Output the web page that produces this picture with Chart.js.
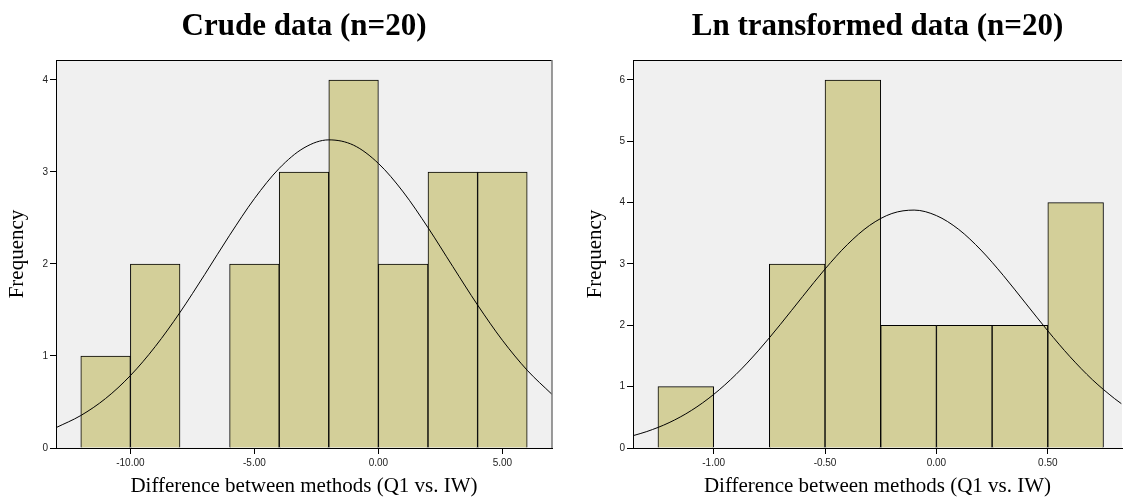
<!DOCTYPE html>
<html>
<head>
<meta charset="utf-8">
<script src="https://cdn.jsdelivr.net/npm/chart.js@4.4.1/dist/chart.umd.min.js"></script>
<style>
  html, body { margin: 0; padding: 0; background: #ffffff; }
  body { width: 1123px; height: 497px; position: relative; overflow: hidden; }
  .panel { position: absolute; top: 0; height: 497px; }
  #leftPanel { left: 0; width: 561px; }
  #rightPanel { left: 561px; width: 562px; }
</style>
</head>
<body>
<div class="panel" id="leftPanel"><canvas id="crudeChart" width="561" height="497"></canvas></div>
<div class="panel" id="rightPanel"><canvas id="lnChart" width="562" height="497"></canvas></div>
<script>
// ---- Crude differences: histogram bins (centre of each 2-unit bin) and counts
const crudeTitle = 'Crude data (n=20)';
const crudeBinCenters = [-11, -9, -7, -5, -3, -1, 1, 3, 5];
const crudeCounts = [1, 2, 0, 2, 3, 4, 2, 3, 3];
// fitted normal curve, read along the x range
const crudeCurveX = [-13, -12, -11, -10, -9, -8, -7, -6, -5, -4, -3, -2, -1, 0, 1, 2, 3, 4, 5, 6, 7];
const crudeCurveY = [0.221, 0.353, 0.538, 0.787, 1.102, 1.474, 1.887, 2.312, 2.710, 3.039, 3.262, 3.349, 3.291, 3.093, 2.783, 2.395, 1.972, 1.554, 1.171, 0.845, 0.583];
const crudeTicksX = [-10, -5, 0, 5];
const crudeTicksY = [0, 1, 2, 3, 4];

// ---- Ln transformed differences: bins of width 0.25
const lnTitle = 'Ln transformed data (n=20)';
const lnBinCenters = [-1.125, -0.875, -0.625, -0.375, -0.125, 0.125, 0.375, 0.625];
const lnCounts = [1, 0, 3, 6, 2, 2, 2, 4];
const lnCurveX = [-1.36, -1.3, -1.2, -1.1, -1.0, -0.9, -0.8, -0.7, -0.6, -0.5, -0.4, -0.3, -0.2, -0.1, 0.0, 0.1, 0.2, 0.3, 0.4, 0.5, 0.6, 0.7, 0.8, 0.83];
const lnCurveY = [0.203, 0.268, 0.413, 0.612, 0.873, 1.198, 1.584, 2.017, 2.472, 2.918, 3.316, 3.629, 3.823, 3.879, 3.789, 3.564, 3.227, 2.814, 2.362, 1.910, 1.487, 1.114, 0.804, 0.723];
const lnTicksX = [-1, -0.5, 0, 0.5];
const lnTicksY = [0, 1, 2, 3, 4, 5, 6];

const xAxisTitle = 'Difference between methods (Q1 vs. IW)';
const yAxisTitle = 'Frequency';

const BAR_FILL = '#d3cf99';
const PLOT_BG = '#f0f0f0';

// Plot background and the top/right frame lines
const framePlugin = {
  id: 'frame',
  beforeDraw(chart) {
    const { ctx, chartArea: a } = chart;
    ctx.save();
    ctx.fillStyle = PLOT_BG;
    ctx.fillRect(a.left, a.top, a.right - a.left, a.bottom - a.top);
    ctx.restore();
  },
  afterDraw(chart, args, opts) {
    const { ctx, chartArea: a } = chart;
    ctx.save();
    ctx.strokeStyle = '#000';
    ctx.lineWidth = 1;
    ctx.beginPath();
    ctx.moveTo(a.left, a.top + 0.5);
    ctx.lineTo(a.right, a.top + 0.5);
    ctx.stroke();
    if (opts.rightBorder) {
      ctx.strokeStyle = '#7a7a7a';
      ctx.lineWidth = 1.5;
      ctx.beginPath();
      ctx.moveTo(a.right, a.top);
      ctx.lineTo(a.right, a.bottom);
      ctx.stroke();
    }
    // heading centred over the plot area
    ctx.fillStyle = '#000';
    ctx.font = 'bold 31px "Liberation Serif", "Times New Roman", serif';
    ctx.textAlign = 'center';
    ctx.textBaseline = 'middle';
    ctx.fillText(opts.heading, (a.left + a.right) / 2, 27);
    ctx.restore();
  }
};

function makeHistogram(id, cfg) {
  const bars = cfg.centers.map((c, i) => ({ x: c, y: cfg.counts[i] }));
  const curve = cfg.curveX.map((x, i) => ({ x: x, y: cfg.curveY[i] }));
  const tickFont = { family: '"Liberation Sans", Arial, sans-serif', size: 10 };
  const titleFont = { family: '"Liberation Serif", "Times New Roman", serif', size: 21, lineHeight: 1.0 };
  return new Chart(document.getElementById(id), {
    type: 'bar',
    data: {
      datasets: [
        {
          type: 'line',
          data: curve,
          borderColor: '#000',
          borderWidth: 1,
          pointRadius: 0,
          fill: false,
          cubicInterpolationMode: 'monotone',
          order: 0
        },
        {
          type: 'bar',
          data: bars,
          backgroundColor: BAR_FILL,
          borderColor: '#000',
          borderWidth: 1,
          barPercentage: 1.0,
          categoryPercentage: 1.0,
          order: 1
        }
      ]
    },
    options: {
      responsive: false,
      animation: false,
      events: [],
      layout: { padding: { top: 60, right: cfg.padRight, bottom: 0, left: 0 } },
      plugins: {
        legend: { display: false },
        tooltip: { enabled: false },
        title: { display: false },
        frame: { heading: cfg.heading, rightBorder: cfg.rightBorder }
      },
      scales: {
        x: {
          type: 'linear',
          min: cfg.xMin,
          max: cfg.xMax,
          offset: false,
          afterBuildTicks(scale) { scale.ticks = cfg.ticksX.map(v => ({ value: v })); },
          afterFit(scale) { scale.height = 49; },
          ticks: {
            color: '#222',
            font: tickFont,
            padding: 3,
            maxRotation: 0,
            autoSkip: false,
            callback: v => Number(v).toFixed(2)
          },
          grid: { display: true, drawOnChartArea: false, drawTicks: true, tickLength: 6, color: '#000', offset: false },
          border: { display: true, color: '#000', width: 1 },
          title: { display: true, text: xAxisTitle, color: '#000', font: titleFont, padding: { top: 0, bottom: 0 } }
        },
        y: {
          type: 'linear',
          min: 0,
          max: cfg.yMax,
          afterBuildTicks(scale) { scale.ticks = cfg.ticksY.map(v => ({ value: v })); },
          afterFit(scale) { scale.width = cfg.yWidth; },
          ticks: { color: '#222', font: tickFont, padding: 2, callback: v => String(v) },
          grid: { display: true, drawOnChartArea: false, drawTicks: true, tickLength: 6, color: '#000' },
          border: { display: true, color: '#000', width: 1 },
          title: { display: true, text: yAxisTitle, color: '#000', font: titleFont, padding: { top: cfg.yTitlePad, bottom: 0 } }
        }
      }
    },
    plugins: [framePlugin]
  });
}

makeHistogram('crudeChart', {
  heading: crudeTitle,
  centers: crudeBinCenters, counts: crudeCounts,
  curveX: crudeCurveX, curveY: crudeCurveY,
  ticksX: crudeTicksX, ticksY: crudeTicksY,
  xMin: -13, xMax: 7, yMax: 4.217,
  yWidth: 56, padRight: 9, yTitlePad: 7, rightBorder: true
});

makeHistogram('lnChart', {
  heading: lnTitle,
  centers: lnBinCenters, counts: lnCounts,
  curveX: lnCurveX, curveY: lnCurveY,
  ticksX: lnTicksX, ticksY: lnTicksY,
  xMin: -1.362, xMax: 0.833, yMax: 6.326,
  yWidth: 72, padRight: 1, yTitlePad: 24, rightBorder: false
});
</script>
</body>
</html>
